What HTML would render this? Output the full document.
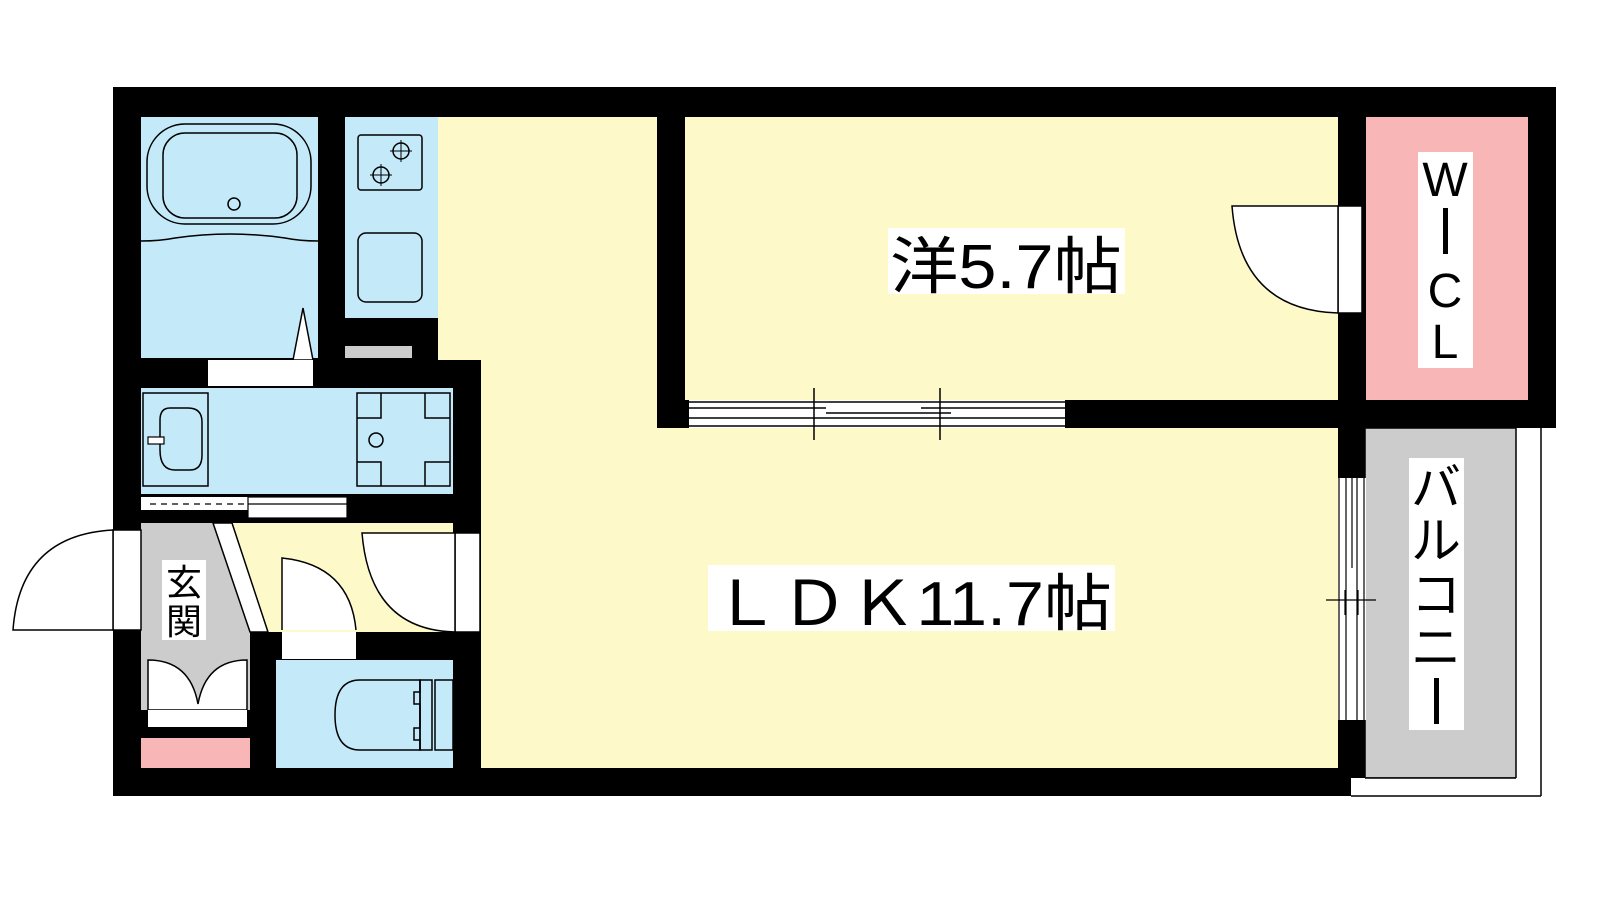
<!DOCTYPE html>
<html><head><meta charset="utf-8"><style>html,body{margin:0;padding:0;background:#fff}svg{display:block}text{font-family:"Liberation Sans","Noto Sans CJK JP",sans-serif;fill:#000}</style></head><body>
<svg width="1600" height="900" viewBox="0 0 1600 900" xmlns="http://www.w3.org/2000/svg">
<rect width="1600" height="900" fill="#fff"/>
<!-- walls -->
<rect x="113" y="87" width="1443" height="341" fill="#000"/>
<rect x="113" y="87" width="1252" height="709" fill="#000"/>
<!-- balcony -->
<rect x="1365" y="428" width="151" height="350" fill="#ccc" stroke="#000" stroke-width="1.5"/>
<rect x="1351" y="778" width="190" height="18" fill="#fff"/>
<line x1="1541" y1="428" x2="1541" y2="796" stroke="#000" stroke-width="1.5"/>
<line x1="1351" y1="796" x2="1541" y2="796" stroke="#000" stroke-width="1.5"/>
<line x1="1365" y1="778" x2="1516" y2="778" stroke="#000" stroke-width="1.5"/>
<!-- yellow LDK -->
<rect x="438" y="117" width="219" height="243" fill="#fef9c9"/>
<rect x="481" y="358" width="176" height="410" fill="#fef9c9"/>
<rect x="657" y="428" width="681" height="340" fill="#fef9c9"/>
<!-- bedroom -->
<rect x="685" y="117" width="653" height="283" fill="#fef9c9"/>
<!-- WIC -->
<rect x="1366" y="117" width="162" height="283" fill="#f9b6b7"/>
<!-- bath -->
<rect x="141" y="117" width="177" height="241" fill="#c4e9f9"/>
<rect x="147" y="124" width="164" height="100" rx="38" fill="none" stroke="#000" stroke-width="1.5"/>
<rect x="163" y="133" width="134" height="85" rx="22" fill="none" stroke="#000" stroke-width="1.5"/>
<circle cx="234" cy="204" r="6" fill="none" stroke="#000" stroke-width="1.5"/>
<path d="M141 241 Q160 241 175 238 Q230 230 285 238 Q300 241 318 241" fill="none" stroke="#000" stroke-width="1.5"/>
<polygon points="293,360 303,308 313,360" fill="#fff" stroke="#000" stroke-width="1.5"/>
<rect x="208" y="360" width="105" height="26" fill="#fff"/>
<!-- kitchen -->
<rect x="345" y="117" width="93" height="201" fill="#c4e9f9"/>
<rect x="358" y="135" width="64" height="55" rx="3" fill="none" stroke="#000" stroke-width="1.5"/>
<circle cx="401" cy="151" r="8" fill="none" stroke="#000" stroke-width="1.5"/>
<circle cx="381" cy="175" r="8" fill="none" stroke="#000" stroke-width="1.5"/>
<path d="M401 140v22M390 151h22M381 164v22M370 175h22" stroke="#000" stroke-width="1"/>
<rect x="358" y="233" width="64" height="69" rx="8" fill="none" stroke="#000" stroke-width="1.5"/>
<rect x="345" y="346" width="67" height="12" fill="#ccc"/>
<!-- washroom -->
<rect x="141" y="388" width="312" height="106" fill="#c4e9f9"/>
<rect x="143" y="393" width="65" height="93" fill="none" stroke="#000" stroke-width="1.5"/>
<path d="M170 408 Q160 408 160 420 L160 450 Q160 470 175 470 L190 470 Q202 470 202 455 L202 422 Q202 408 188 408 Z" fill="none" stroke="#000" stroke-width="1.5"/>
<rect x="148" y="437" width="16" height="7" fill="#fff" stroke="#000" stroke-width="1.2"/>
<rect x="357" y="393" width="93" height="93" fill="none" stroke="#000" stroke-width="1.5"/>
<path d="M357 418h24v-25M425 393v25h25M357 462h24v24M425 486v-24h25" fill="none" stroke="#000" stroke-width="1.5"/>
<circle cx="376" cy="440" r="7" fill="none" stroke="#000" stroke-width="1.5"/>
<rect x="141" y="497" width="107" height="13" fill="#fff"/>
<line x1="150" y1="504" x2="245" y2="504" stroke="#000" stroke-width="1.2" stroke-dasharray="6,5"/>
<rect x="248" y="497" width="99" height="21" fill="#fff" stroke="#000" stroke-width="1.2"/>
<line x1="248" y1="504" x2="347" y2="504" stroke="#000" stroke-width="1.2"/>
<!-- hall -->
<rect x="232" y="523" width="221" height="109" fill="#fef9c9"/>
<!-- genkan -->
<polygon points="141,523 213,523 250,632 250,710 141,710" fill="#ccc"/>
<polygon points="213,523 232,523 268,632 250,632" fill="#fff" stroke="#000" stroke-width="1.5"/>
<rect x="162" y="560" width="44" height="80" fill="#fff"/>
<text x="184" y="595" font-size="36" text-anchor="middle">玄</text>
<text x="184" y="634" font-size="36" text-anchor="middle">関</text>
<path d="M148 710 V660 Q190 660 198 704 Q206 660 247 660 V710 Z" fill="#fff" stroke="#000" stroke-width="1.5"/>
<rect x="148" y="710" width="99" height="17" fill="#fff"/>
<rect x="141" y="738" width="109" height="30" fill="#f9b6b7"/>
<!-- front door -->
<rect x="113" y="530" width="28" height="100" fill="#fff" stroke="#000" stroke-width="1.5"/>
<path d="M13 630 Q20 535 113 530 V630 Z" fill="#fff" stroke="#000" stroke-width="1.5"/>
<!-- toilet door -->
<path d="M282 630 V558 Q350 565 356 630" fill="#fff" stroke="#000" stroke-width="1.5"/>
<rect x="282" y="632" width="74" height="27" fill="#fff"/>
<!-- toilet -->
<rect x="276" y="660" width="177" height="108" fill="#c4e9f9"/>
<path d="M420 680 L360 680 Q335 680 335 715 Q335 750 360 750 L420 750 Z" fill="none" stroke="#000" stroke-width="1.5"/>
<path d="M420 680 v12 h-6 v12 h6 v24 h-6 v12 h6 v10" fill="none" stroke="#000" stroke-width="1.5"/>
<rect x="420" y="680" width="12" height="70" fill="none" stroke="#000" stroke-width="1.5"/>
<rect x="435" y="680" width="18" height="70" fill="none" stroke="#000" stroke-width="1.5"/>
<!-- LDK door from hall -->
<rect x="455" y="533" width="25" height="99" fill="#fff" stroke="#000" stroke-width="1.5"/>
<path d="M362 533 H455 V632 Q370 630 362 533 Z" fill="#fff" stroke="#000" stroke-width="1.5"/>
<!-- bedroom sliding door -->
<rect x="689" y="400" width="376" height="28" fill="#fff"/>
<path d="M689 402h376M689 408h137M689 418h376M689 426h376M826 413h125" stroke="#000" stroke-width="1.5"/>
<path d="M921 408h144" stroke="#000" stroke-width="1.5"/>
<path d="M814 388v52M940 388v52" stroke="#000" stroke-width="1.5"/>
<!-- WIC door -->
<rect x="1338" y="206" width="24" height="107" fill="#fff" stroke="#000" stroke-width="1.5"/>
<path d="M1232 206 H1338 V313 Q1240 310 1232 206 Z" fill="#fff" stroke="#000" stroke-width="1.5"/>
<!-- balcony window -->
<rect x="1338" y="478" width="28" height="242" fill="#fff"/>
<path d="M1339 478v242M1346 478v242M1357 478v242M1364 478v242M1352 478v90M1346 610v110" stroke="#000" stroke-width="1.2"/>
<path d="M1326 600h50M1345 590v25M1358 590v25" stroke="#000" stroke-width="1.2"/>
<!-- labels -->
<rect x="888" y="228" width="237" height="66" fill="#fff"/>
<text x="890" y="288" font-size="62" textLength="232" lengthAdjust="spacingAndGlyphs">洋5.7帖</text>
<rect x="708" y="565" width="407" height="66" fill="#fff"/>
<text x="712" y="625" font-size="62" textLength="400" lengthAdjust="spacingAndGlyphs">ＬＤＫ11.7帖</text>
<rect x="1418" y="152" width="55" height="216" fill="#fff"/>
<text x="1445" y="196" font-size="48" text-anchor="middle">W</text>
<rect x="1443" y="208" width="5" height="46" fill="#000"/>
<text x="1445" y="307" font-size="48" text-anchor="middle">C</text>
<text x="1445" y="358" font-size="48" text-anchor="middle">L</text>
<rect x="1409" y="458" width="55" height="272" fill="#fff"/>
<text x="1436" y="505" font-size="50" text-anchor="middle">バ</text>
<text x="1436" y="558" font-size="50" text-anchor="middle">ル</text>
<text x="1436" y="612" font-size="50" text-anchor="middle">コ</text>
<text x="1436" y="665" font-size="50" text-anchor="middle">ニ</text>
<rect x="1434" y="678" width="5" height="46" fill="#000"/>
</svg>
</body></html>
